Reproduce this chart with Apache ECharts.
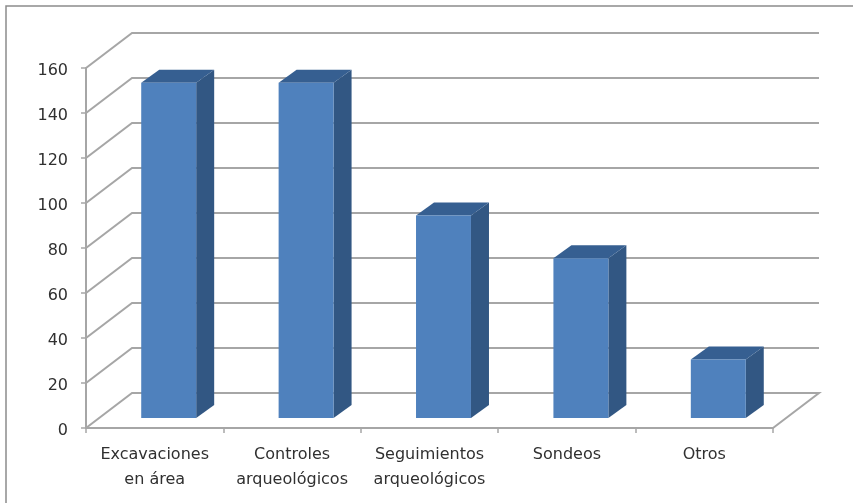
<!DOCTYPE html>
<html>
<head>
<meta charset="utf-8">
<style>html,body{margin:0;padding:0;background:#fff;overflow:hidden}#chart{width:853px;height:503px}</style>
<script src="https://cdn.jsdelivr.net/npm/echarts@6/dist/echarts.min.js"></script>
</head>
<body>
<div id="chart"></div>
<script>
// Intervenciones arqueológicas por tipo
const categories = ['Excavaciones\nen área', 'Controles\narqueológicos', 'Seguimientos\narqueológicos', 'Sondeos', 'Otros'];
const values = [149, 149, 90, 71, 26];
const yTicks = [0, 20, 40, 60, 80, 100, 120, 140, 160];

// Oblique projection used for the walls and the columns
const wallDepth = { dx: 46, dy: -35 };
const columnDepth = { dx: 18, dy: -13 };
const columnInset = { dx: 14, dy: -10 };
const columnShare = 0.4;

const gridLine = '#a6a6a6';
const textColor = '#303030';
const labelFont = '"DejaVu Sans", sans-serif';

function renderWallLine(params, api) {
  const cs = params.coordSys;
  const y = api.coord([0, api.value(1)])[1];
  const left = cs.x, right = cs.x + cs.width;
  const pts = [[left, y], [left + wallDepth.dx, y + wallDepth.dy], [right + wallDepth.dx, y + wallDepth.dy]];
  // The floor also closes on the right-hand side
  if (api.value(1) === 0) pts.push([right, y]);
  return {
    type: 'polyline',
    shape: { points: pts },
    style: { fill: null, stroke: gridLine, lineWidth: 2 },
    silent: true
  };
}

function renderColumn(params, api) {
  const top = api.coord([api.value(0), api.value(1)]);
  const base = api.coord([api.value(0), 0]);
  const w = api.size([1, 0])[0] * columnShare;
  const xl = top[0] - w / 2 + columnInset.dx;
  const xr = xl + w;
  const yb = base[1] + columnInset.dy;
  const yt = top[1] + columnInset.dy;
  const { dx, dy } = columnDepth;
  return {
    type: 'group',
    children: [
      { type: 'polygon', shape: { points: [[xr, yt], [xr + dx, yt + dy], [xr + dx, yb + dy], [xr, yb]] }, style: { fill: '#325783' } },
      { type: 'polygon', shape: { points: [[xl, yt], [xl + dx, yt + dy], [xr + dx, yt + dy], [xr, yt]] }, style: { fill: '#365f91' } },
      { type: 'rect', shape: { x: xl, y: yt, width: w, height: yb - yt }, style: { fill: '#4f81bd' } }
    ]
  };
}

const chart = echarts.init(document.getElementById('chart'), null, { renderer: 'canvas' });
chart.setOption({
  animation: false,
  backgroundColor: '#fff',
  graphic: [{
    type: 'rect', silent: true, z: -1,
    shape: { x: 6, y: 6, width: 900, height: 600 },
    style: { fill: '#fff', stroke: '#8c8c8c', lineWidth: 1.5 }
  }],
  grid: { left: 86, right: 80, top: 68, bottom: 75 },
  xAxis: {
    type: 'category',
    data: categories,
    axisLine: { lineStyle: { color: gridLine, width: 2 } },
    axisTick: { show: true, length: 5, lineStyle: { color: gridLine, width: 1.5 } },
    axisLabel: { interval: 0, margin: 14, color: textColor, fontFamily: labelFont, fontSize: 16, lineHeight: 25 }
  },
  yAxis: {
    type: 'value',
    min: 0, max: 160, interval: 20,
    splitLine: { show: false },
    axisLine: { show: true, lineStyle: { color: gridLine, width: 2 } },
    axisTick: { show: true, length: 5, lineStyle: { color: gridLine, width: 1.5 } },
    axisLabel: { margin: 18, verticalAlign: 'top', lineHeight: 6, color: textColor, fontFamily: labelFont, fontSize: 16 }
  },
  series: [
    { type: 'custom', clip: false, z: 1, renderItem: renderWallLine, encode: { x: 0, y: 1 }, data: yTicks.map(v => [0, v]) },
    { type: 'custom', clip: false, z: 2, renderItem: renderColumn, encode: { x: 0, y: 1 }, data: values.map((v, i) => [i, v]) }
  ]
});
</script>
</body>
</html>
